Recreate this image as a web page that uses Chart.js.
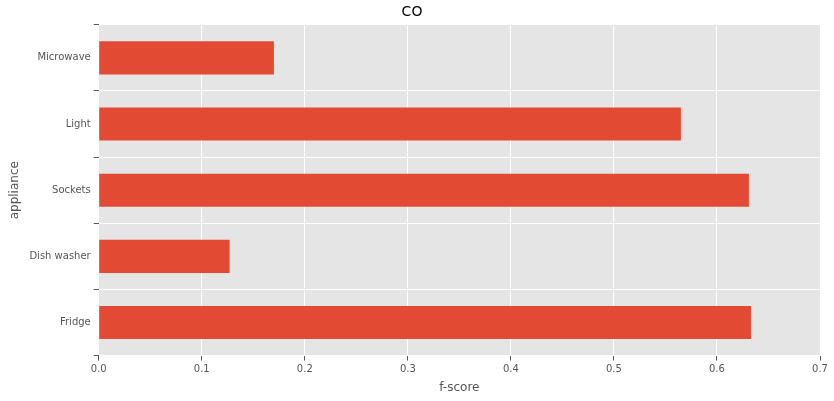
<!DOCTYPE html>
<html>
<head>
<meta charset="utf-8">
<script src="https://cdn.jsdelivr.net/npm/chart.js@4"></script>
<style>
  html, body { margin: 0; padding: 0; background: #fff; }
  #wrap { width: 834px; height: 401px; }
</style>
</head>
<body>
<div id="wrap"><canvas id="chart"></canvas></div>
<script>
const appliances = ['Microwave', 'Light', 'Sockets', 'Dish washer', 'Fridge'];
const fScores = [0.170, 0.565, 0.631, 0.127, 0.633];
const xTicks = [0, 0.1, 0.2, 0.3, 0.4, 0.5, 0.6, 0.7];

// grey panel behind the plot, like matplotlib's ggplot style
const panelBg = {
    id: 'panelBg',
    beforeDraw(chart) {
        const { ctx, chartArea: a } = chart;
        ctx.save();
        ctx.fillStyle = '#E5E5E5';
        ctx.fillRect(a.left, a.top, a.right - a.left, a.bottom - a.top);
        ctx.restore();
    }
};

new Chart(document.getElementById('chart'), {
    type: 'bar',
    data: {
        labels: appliances,
        datasets: [{
            label: 'f-score',
            data: fScores,
            backgroundColor: '#E24A33',
            categoryPercentage: 1,
            barPercentage: 0.5
        }]
    },
    options: {
        indexAxis: 'y',
        responsive: true,
        maintainAspectRatio: false,
        animation: false,
        layout: { padding: { left: 4, right: 14, top: 0, bottom: 2 } },
        scales: {
            x: {
                min: 0,
                max: 0.7,
                afterBuildTicks: (axis) => { axis.ticks = xTicks.map(v => ({ value: v })); },
                grid: { color: '#FFFFFF', lineWidth: 1, tickColor: '#555', tickLength: 5, drawOnChartArea: true },
                border: { display: false },
                ticks: { color: '#555', font: { family: 'DejaVu Sans', size: 10 }, callback: v => v === 0 ? '0.0' : String(v) },
                title: { display: true, text: 'f-score', color: '#555', font: { family: 'DejaVu Sans', size: 12 }, padding: { top: 2 } }
            },
            y: {
                grid: { color: '#FFFFFF', lineWidth: 1, tickColor: '#555', tickLength: 5 },
                border: { display: false },
                ticks: { color: '#555', font: { family: 'DejaVu Sans', size: 10 } },
                title: { display: true, text: 'appliance', color: '#555', font: { family: 'DejaVu Sans', size: 12 } }
            }
        },
        plugins: {
            legend: { display: false },
            tooltip: { enabled: false },
            title: { display: true, text: 'CO', color: '#000', font: { family: 'DejaVu Sans', size: 14, weight: 'normal' }, padding: { top: 4, bottom: 4 } }
        }
    },
    plugins: [panelBg]
});
</script>
</body>
</html>
